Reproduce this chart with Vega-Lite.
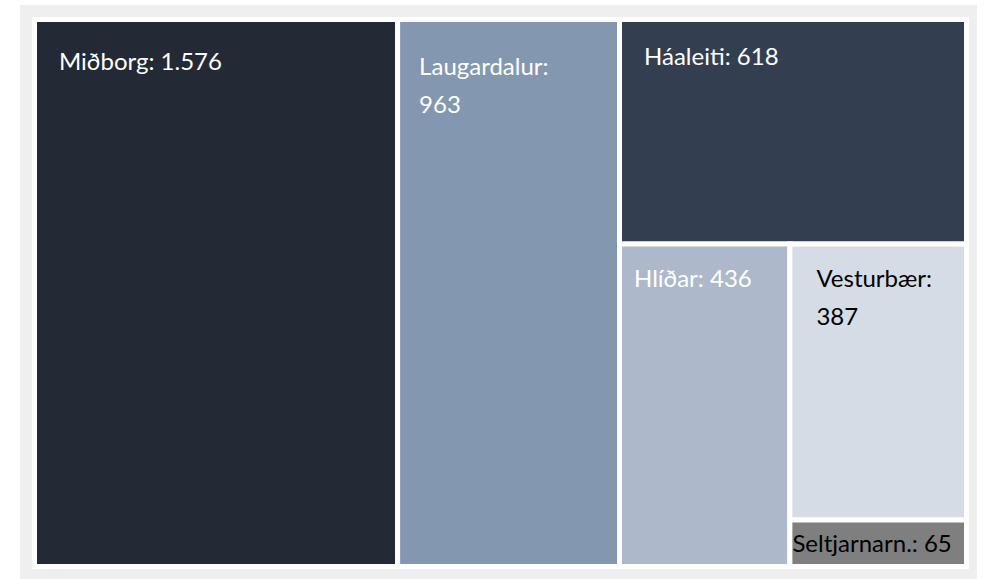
{
  "$schema": "https://vega.github.io/schema/vega-lite/v6.json",
  "width": 957,
  "height": 574,
  "padding": {"left": 20, "top": 5, "right": 7, "bottom": 0},
  "autosize": {"type": "none"},
  "background": "white",
  "config": {"view": {"fill": "#efefef", "stroke": null}},
  "data": {
    "values": [
      {"name": "Miðborg", "value": 1576, "k1": "M", "k2": "M", "k3": "M", "lines": ["Miðborg: 1.576"]},
      {"name": "Laugardalur", "value": 963, "k1": "L", "k2": "L", "k3": "L", "lines": ["Laugardalur:", "963"]},
      {"name": "Háaleiti", "value": 618, "k1": "R", "k2": "Ha", "k3": "Ha", "lines": ["Háaleiti: 618"]},
      {"name": "Hlíðar", "value": 436, "k1": "R", "k2": "Lo", "k3": "Hl", "lines": ["Hlíðar: 436"]},
      {"name": "Vesturbær", "value": 387, "k1": "R", "k2": "Lo", "k3": "VS", "lines": ["Vesturbær:", "387"]},
      {"name": "Seltjarnarn.", "value": 65, "k1": "R", "k2": "Lo", "k3": "VS", "lines": ["Seltjarnarn.: 65"]}
    ]
  },
  "transform": [
    {"window": [{"op": "row_number", "as": "idx"}]},
    {"joinaggregate": [{"op": "sum", "field": "value", "as": "total"}]},
    {"window": [{"op": "sum", "field": "value", "as": "cum1"}], "sort": [{"field": "idx"}], "frame": [null, 0]},
    {"calculate": "datum.cum1 - datum.value", "as": "st1"},
    {"joinaggregate": [{"op": "min", "field": "st1", "as": "a1"}, {"op": "sum", "field": "value", "as": "s1"}], "groupby": ["k1"]},
    {"calculate": "datum.a1 / datum.total", "as": "x0"},
    {"calculate": "(datum.a1 + datum.s1) / datum.total", "as": "x1"},
    {"window": [{"op": "sum", "field": "value", "as": "cum2"}], "groupby": ["k1"], "sort": [{"field": "idx"}], "frame": [null, 0]},
    {"calculate": "datum.cum2 - datum.value", "as": "st2"},
    {"joinaggregate": [{"op": "min", "field": "st2", "as": "a2"}, {"op": "sum", "field": "value", "as": "s2"}], "groupby": ["k1", "k2"]},
    {"calculate": "datum.a2 / datum.s1", "as": "y0"},
    {"calculate": "(datum.a2 + datum.s2) / datum.s1", "as": "y1"},
    {"window": [{"op": "sum", "field": "value", "as": "cum3"}], "groupby": ["k1", "k2"], "sort": [{"field": "idx"}], "frame": [null, 0]},
    {"calculate": "datum.cum3 - datum.value", "as": "st3"},
    {"joinaggregate": [{"op": "min", "field": "st3", "as": "a3"}, {"op": "sum", "field": "value", "as": "s3"}], "groupby": ["k1", "k2", "k3"]},
    {"calculate": "datum.x0 + (datum.x1 - datum.x0) * datum.a3 / datum.s2", "as": "X0"},
    {"calculate": "datum.x0 + (datum.x1 - datum.x0) * (datum.a3 + datum.s3) / datum.s2", "as": "X1"},
    {"window": [{"op": "sum", "field": "value", "as": "cum4"}], "groupby": ["k1", "k2", "k3"], "sort": [{"field": "idx"}], "frame": [null, 0]},
    {"calculate": "datum.cum4 - datum.value", "as": "st4"},
    {"calculate": "datum.y0 + (datum.y1 - datum.y0) * datum.st4 / datum.s3", "as": "Y0"},
    {"calculate": "datum.y0 + (datum.y1 - datum.y0) * (datum.st4 + datum.value) / datum.s3", "as": "Y1"}
  ],
  "encoding": {
    "x": {"field": "X0", "type": "quantitative", "axis": null, "scale": {"domain": [-0.015558, 1.011266], "nice": false, "zero": false}},
    "y": {"field": "Y0", "type": "quantitative", "axis": null, "scale": {"domain": [-0.026508, 1.022852], "nice": false, "zero": false, "reverse": true}}
  },
  "layer": [
    {
      "mark": {"type": "rect", "stroke": "white", "strokeWidth": 5},
      "encoding": {
        "x2": {"field": "X1"},
        "y2": {"field": "Y1"},
        "color": {
          "field": "name", "type": "nominal", "legend": null,
          "scale": {
            "domain": ["Miðborg", "Laugardalur", "Háaleiti", "Hlíðar", "Vesturbær", "Seltjarnarn."],
            "range": ["#242a35", "#8497b0", "#333f50", "#adb9ca", "#d6dce5", "#7f7f7f"]
          }
        },
        "opacity": {"value": 1}
      }
    },
    {
      "transform": [{"filter": "datum.name == 'Miðborg'"}],
      "mark": {"type": "text", "font": "Lato", "fontSize": 24, "align": "left", "baseline": "alphabetic", "dx": 24.5, "dy": 50.5, "color": "white", "lineHeight": 38},
      "encoding": {"text": {"field": "lines"}}
    },
    {
      "transform": [{"filter": "datum.name == 'Laugardalur'"}],
      "mark": {"type": "text", "font": "Lato", "fontSize": 24, "align": "left", "baseline": "alphabetic", "dx": 21.5, "dy": 55.5, "color": "white", "lineHeight": 38},
      "encoding": {"text": {"field": "lines"}}
    },
    {
      "transform": [{"filter": "datum.name == 'Háaleiti'"}],
      "mark": {"type": "text", "font": "Lato", "fontSize": 24, "align": "left", "baseline": "alphabetic", "dx": 24.5, "dy": 45.5, "color": "white", "lineHeight": 38},
      "encoding": {"text": {"field": "lines"}}
    },
    {
      "transform": [{"filter": "datum.name == 'Hlíðar'"}],
      "mark": {"type": "text", "font": "Lato", "fontSize": 24, "align": "left", "baseline": "alphabetic", "dx": 14.5, "dy": 43.5, "color": "white", "lineHeight": 38},
      "encoding": {"text": {"field": "lines"}}
    },
    {
      "transform": [{"filter": "datum.name == 'Vesturbær'"}],
      "mark": {"type": "text", "font": "Lato", "fontSize": 24, "align": "left", "baseline": "alphabetic", "dx": 26.5, "dy": 43.5, "color": "black", "lineHeight": 38},
      "encoding": {"text": {"field": "lines"}}
    },
    {
      "transform": [{"filter": "datum.name == 'Seltjarnarn.'"}],
      "mark": {"type": "text", "font": "Lato", "fontSize": 24, "align": "left", "baseline": "alphabetic", "dx": 2.5, "dy": 32, "color": "black", "lineHeight": 38},
      "encoding": {"text": {"field": "lines"}}
    }
  ]
}
